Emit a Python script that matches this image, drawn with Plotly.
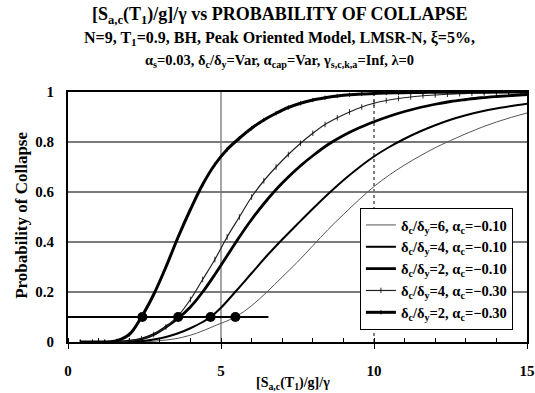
import plotly.graph_objects as go

# ---- data ----
# curve A: dc/dy=2, ac=-0.30 (heavy, small markers)
xa = [0.4, 0.8, 1.2, 1.6, 2.0, 2.4, 2.8, 3.2, 3.6, 4.0, 4.4, 4.8, 5.2, 5.6, 6.0, 6.4, 6.8, 7.2, 7.6, 8.0,
      8.4, 8.8, 9.2, 9.6, 10.0, 10.4, 10.8, 11.2, 11.6, 12.0, 12.4, 12.8, 13.2, 13.6, 14.0, 14.4, 14.8, 15.0]
pa = [0.0, 0.0, 0.0, 0.005, 0.03, 0.10, 0.19, 0.30, 0.42, 0.53, 0.63, 0.71, 0.77, 0.815, 0.855, 0.888, 0.915, 0.938, 0.955, 0.968,
      0.977, 0.984, 0.989, 0.992, 0.994, 0.996, 0.997, 0.998, 0.998, 0.999, 0.999, 0.999, 1.0, 1.0, 1.0, 1.0, 1.0, 1.0]
# curve B: dc/dy=4, ac=-0.30 (thin, + markers)
xb = [0.4, 0.8, 1.2, 1.6, 2.0, 2.4, 2.8, 3.2, 3.6, 4.0, 4.4, 4.8, 5.2, 5.6, 6.0, 6.4, 6.8, 7.2, 7.6, 8.0,
      8.4, 8.8, 9.2, 9.6, 10.0, 10.4, 10.8, 11.2, 11.6, 12.0, 12.4, 12.8, 13.2, 13.6, 14.0, 14.4, 14.8, 15.0]
pb = [0.0, 0.0, 0.0, 0.0, 0.004, 0.013, 0.03, 0.06, 0.105, 0.17, 0.25, 0.33, 0.42, 0.50, 0.58, 0.645, 0.70, 0.75, 0.795, 0.835,
      0.87, 0.897, 0.92, 0.94, 0.955, 0.966, 0.974, 0.98, 0.985, 0.988, 0.991, 0.993, 0.995, 0.996, 0.997, 0.998, 0.998, 0.999]
# curve C: dc/dy=2, ac=-0.10 (heavy)
xc = [1.6, 2.0, 2.4, 2.8, 3.2, 3.6, 4.0, 4.4, 4.8, 5.2, 5.6, 6.0, 6.4, 6.8, 7.2, 7.6, 8.0, 8.5, 9.0, 9.5,
      10.0, 10.5, 11.0, 11.5, 12.0, 12.5, 13.0, 13.5, 14.0, 14.5, 15.0]
pc = [0.0, 0.003, 0.012, 0.03, 0.06, 0.095, 0.14, 0.20, 0.27, 0.345, 0.42, 0.49, 0.553, 0.61, 0.66, 0.705, 0.745, 0.79, 0.826, 0.856,
      0.881, 0.903, 0.922, 0.938, 0.951, 0.962, 0.97, 0.977, 0.982, 0.986, 0.99]
# curve D: dc/dy=4, ac=-0.10 (medium)
xd = [2.0, 2.4, 2.8, 3.2, 3.6, 4.0, 4.4, 4.66, 5.0, 5.5, 6.0, 6.5, 7.0, 7.5, 8.0, 8.5, 9.0, 9.5, 10.0, 10.5,
      11.0, 11.5, 12.0, 12.5, 13.0, 13.5, 14.0, 14.5, 15.0]
pd_ = [0.0, 0.003, 0.01, 0.02, 0.035, 0.055, 0.08, 0.10, 0.137, 0.205, 0.275, 0.345, 0.41, 0.472, 0.533, 0.592, 0.647, 0.697, 0.742, 0.78,
       0.813, 0.842, 0.867, 0.889, 0.907, 0.922, 0.934, 0.944, 0.953]
# curve E: dc/dy=6, ac=-0.10 (thin gray)
xe = [2.4, 2.8, 3.2, 3.6, 4.2, 4.8, 5.47, 6.0, 6.5, 7.0, 7.5, 8.0, 8.5, 9.0, 9.5, 10.0, 10.5, 11.0, 11.5,
      12.0, 12.5, 13.0, 13.5, 14.0, 14.5, 15.0]
pe = [0.0, 0.003, 0.008, 0.015, 0.035, 0.065, 0.10, 0.145, 0.20, 0.26, 0.32, 0.385, 0.45, 0.51, 0.568, 0.622, 0.668, 0.708, 0.744,
      0.777, 0.806, 0.833, 0.858, 0.88, 0.899, 0.916]

dot_x = [2.43, 3.6, 4.66, 5.47]
dot_y = [0.1, 0.1, 0.1, 0.1]
ref_x = [-0.25, 6.55]
ref_y = [0.1, 0.1]

names = [
    "δ<sub>c</sub>/δ<sub>y</sub>=6, α<sub>c</sub>=−0.10",
    "δ<sub>c</sub>/δ<sub>y</sub>=4, α<sub>c</sub>=−0.10",
    "δ<sub>c</sub>/δ<sub>y</sub>=2, α<sub>c</sub>=−0.10",
    "δ<sub>c</sub>/δ<sub>y</sub>=4, α<sub>c</sub>=−0.30",
    "δ<sub>c</sub>/δ<sub>y</sub>=2, α<sub>c</sub>=−0.30",
]
x_ticks = [0, 5, 10, 15]
y_ticks = [0, 0.2, 0.4, 0.6, 0.8, 1]
y_ticklabels = ["0", "0.2", "0.4", "0.6", "0.8", "1"]

FONT = "Liberation Serif"

fig = go.Figure()

fig.add_trace(go.Scatter(x=xe, y=pe, mode="lines", name=names[0],
                         line=dict(color="#555555", width=1, shape="spline")))
fig.add_trace(go.Scatter(x=xd, y=pd_, mode="lines", name=names[1],
                         line=dict(color="black", width=2, shape="spline")))
fig.add_trace(go.Scatter(x=xc, y=pc, mode="lines", name=names[2],
                         line=dict(color="black", width=2.8, shape="spline")))
fig.add_trace(go.Scatter(x=xb, y=pb, mode="lines+markers", name=names[3],
                         line=dict(color="#222222", width=1.2, shape="spline"),
                         marker=dict(symbol="line-ns", size=4, line=dict(color="black", width=0.8))))
fig.add_trace(go.Scatter(x=xa, y=pa, mode="lines+markers", name=names[4],
                         line=dict(color="black", width=3, shape="spline"),
                         marker=dict(symbol="line-ns", size=3, line=dict(color="black", width=1))))

# reference level line and points
fig.add_trace(go.Scatter(x=ref_x, y=ref_y, mode="lines", showlegend=False,
                         line=dict(color="black", width=2), cliponaxis=False))
fig.add_trace(go.Scatter(x=dot_x, y=dot_y, mode="markers", showlegend=False,
                         marker=dict(color="black", size=10)))

# vertical reference lines
fig.add_shape(type="line", xref="x", yref="paper", x0=5, x1=5, y0=0, y1=1,
              line=dict(color="#888888", width=1.5), layer="below")
fig.add_shape(type="line", xref="x", yref="paper", x0=10, x1=10, y0=0, y1=1,
              line=dict(color="black", width=1, dash="dot"), layer="below")

fig.update_layout(
    width=535, height=393,
    margin=dict(l=68, r=8, t=92, b=51),
    paper_bgcolor="white", plot_bgcolor="white",
    font=dict(family=FONT, color="black", size=15, weight="bold"),
    showlegend=True,
    legend=dict(x=0.636, y=0.536, xanchor="left", yanchor="top",
                bgcolor="white", bordercolor="black", borderwidth=1,
                font=dict(family=FONT, size=14.5, color="black", weight="bold"),
                tracegroupgap=0, itemwidth=30),
    xaxis=dict(range=[0, 15], tickvals=x_ticks, ticktext=[str(v) for v in x_ticks],
               automargin=False,
               showgrid=False, zeroline=False, showline=True, linecolor="black", linewidth=2,
               mirror=True, ticks="outside", ticklen=5, tickcolor="black", tickwidth=1,
               minor=dict(dtick=1, ticks="inside", ticklen=4, tickcolor="black"),
               ticklabelstandoff=9,
               tickfont=dict(family=FONT, size=15, weight="bold")),
    yaxis=dict(range=[0, 1], tickvals=y_ticks, ticktext=y_ticklabels,
               automargin=False,
               showgrid=True, gridcolor="#7a7a7a", gridwidth=1.5, zeroline=False,
               showline=True, linecolor="black", linewidth=2, mirror=True, ticks="",
               ticklabelstandoff=9,
               tickfont=dict(family=FONT, size=15, weight="bold")),
)

ann = [
    dict(text="[S<sub>a,c</sub>(T<sub>1</sub>)/g]/γ vs PROBABILITY OF COLLAPSE", x=0.461, y=1.305, size=18),
    dict(text="N=9, T<sub>1</sub>=0.9, BH, Peak Oriented Model, LMSR-N, ξ=5%,", x=0.461, y=1.214, size=16),
    dict(text="α<sub>s</sub>=0.03, δ<sub>c</sub>/δ<sub>y</sub>=Var, α<sub>cap</sub>=Var, γ<sub>s,c,k,a</sub>=Inf, λ=0",
         x=0.461, y=1.126, size=14.5),
    dict(text="[S<sub>a,c</sub>(T<sub>1</sub>)/g]/γ", x=0.49, y=-0.165, size=14),
]
for a in ann:
    fig.add_annotation(text=a["text"], x=a["x"], y=a["y"], xref="paper", yref="paper",
                       showarrow=False, xanchor="center", yanchor="middle",
                       font=dict(family=FONT, size=a["size"], color="black", weight="bold"))
fig.add_annotation(text="Probability of Collapse", x=-0.1, y=0.505, xref="paper", yref="paper",
                   showarrow=False, textangle=-90, xanchor="center", yanchor="middle",
                   font=dict(family=FONT, size=17, color="black", weight="bold"))

fig.write_html("out.html", config={"displayModeBar": False},
               post_script="document.body.style.margin='0';document.body.style.padding='0';")
